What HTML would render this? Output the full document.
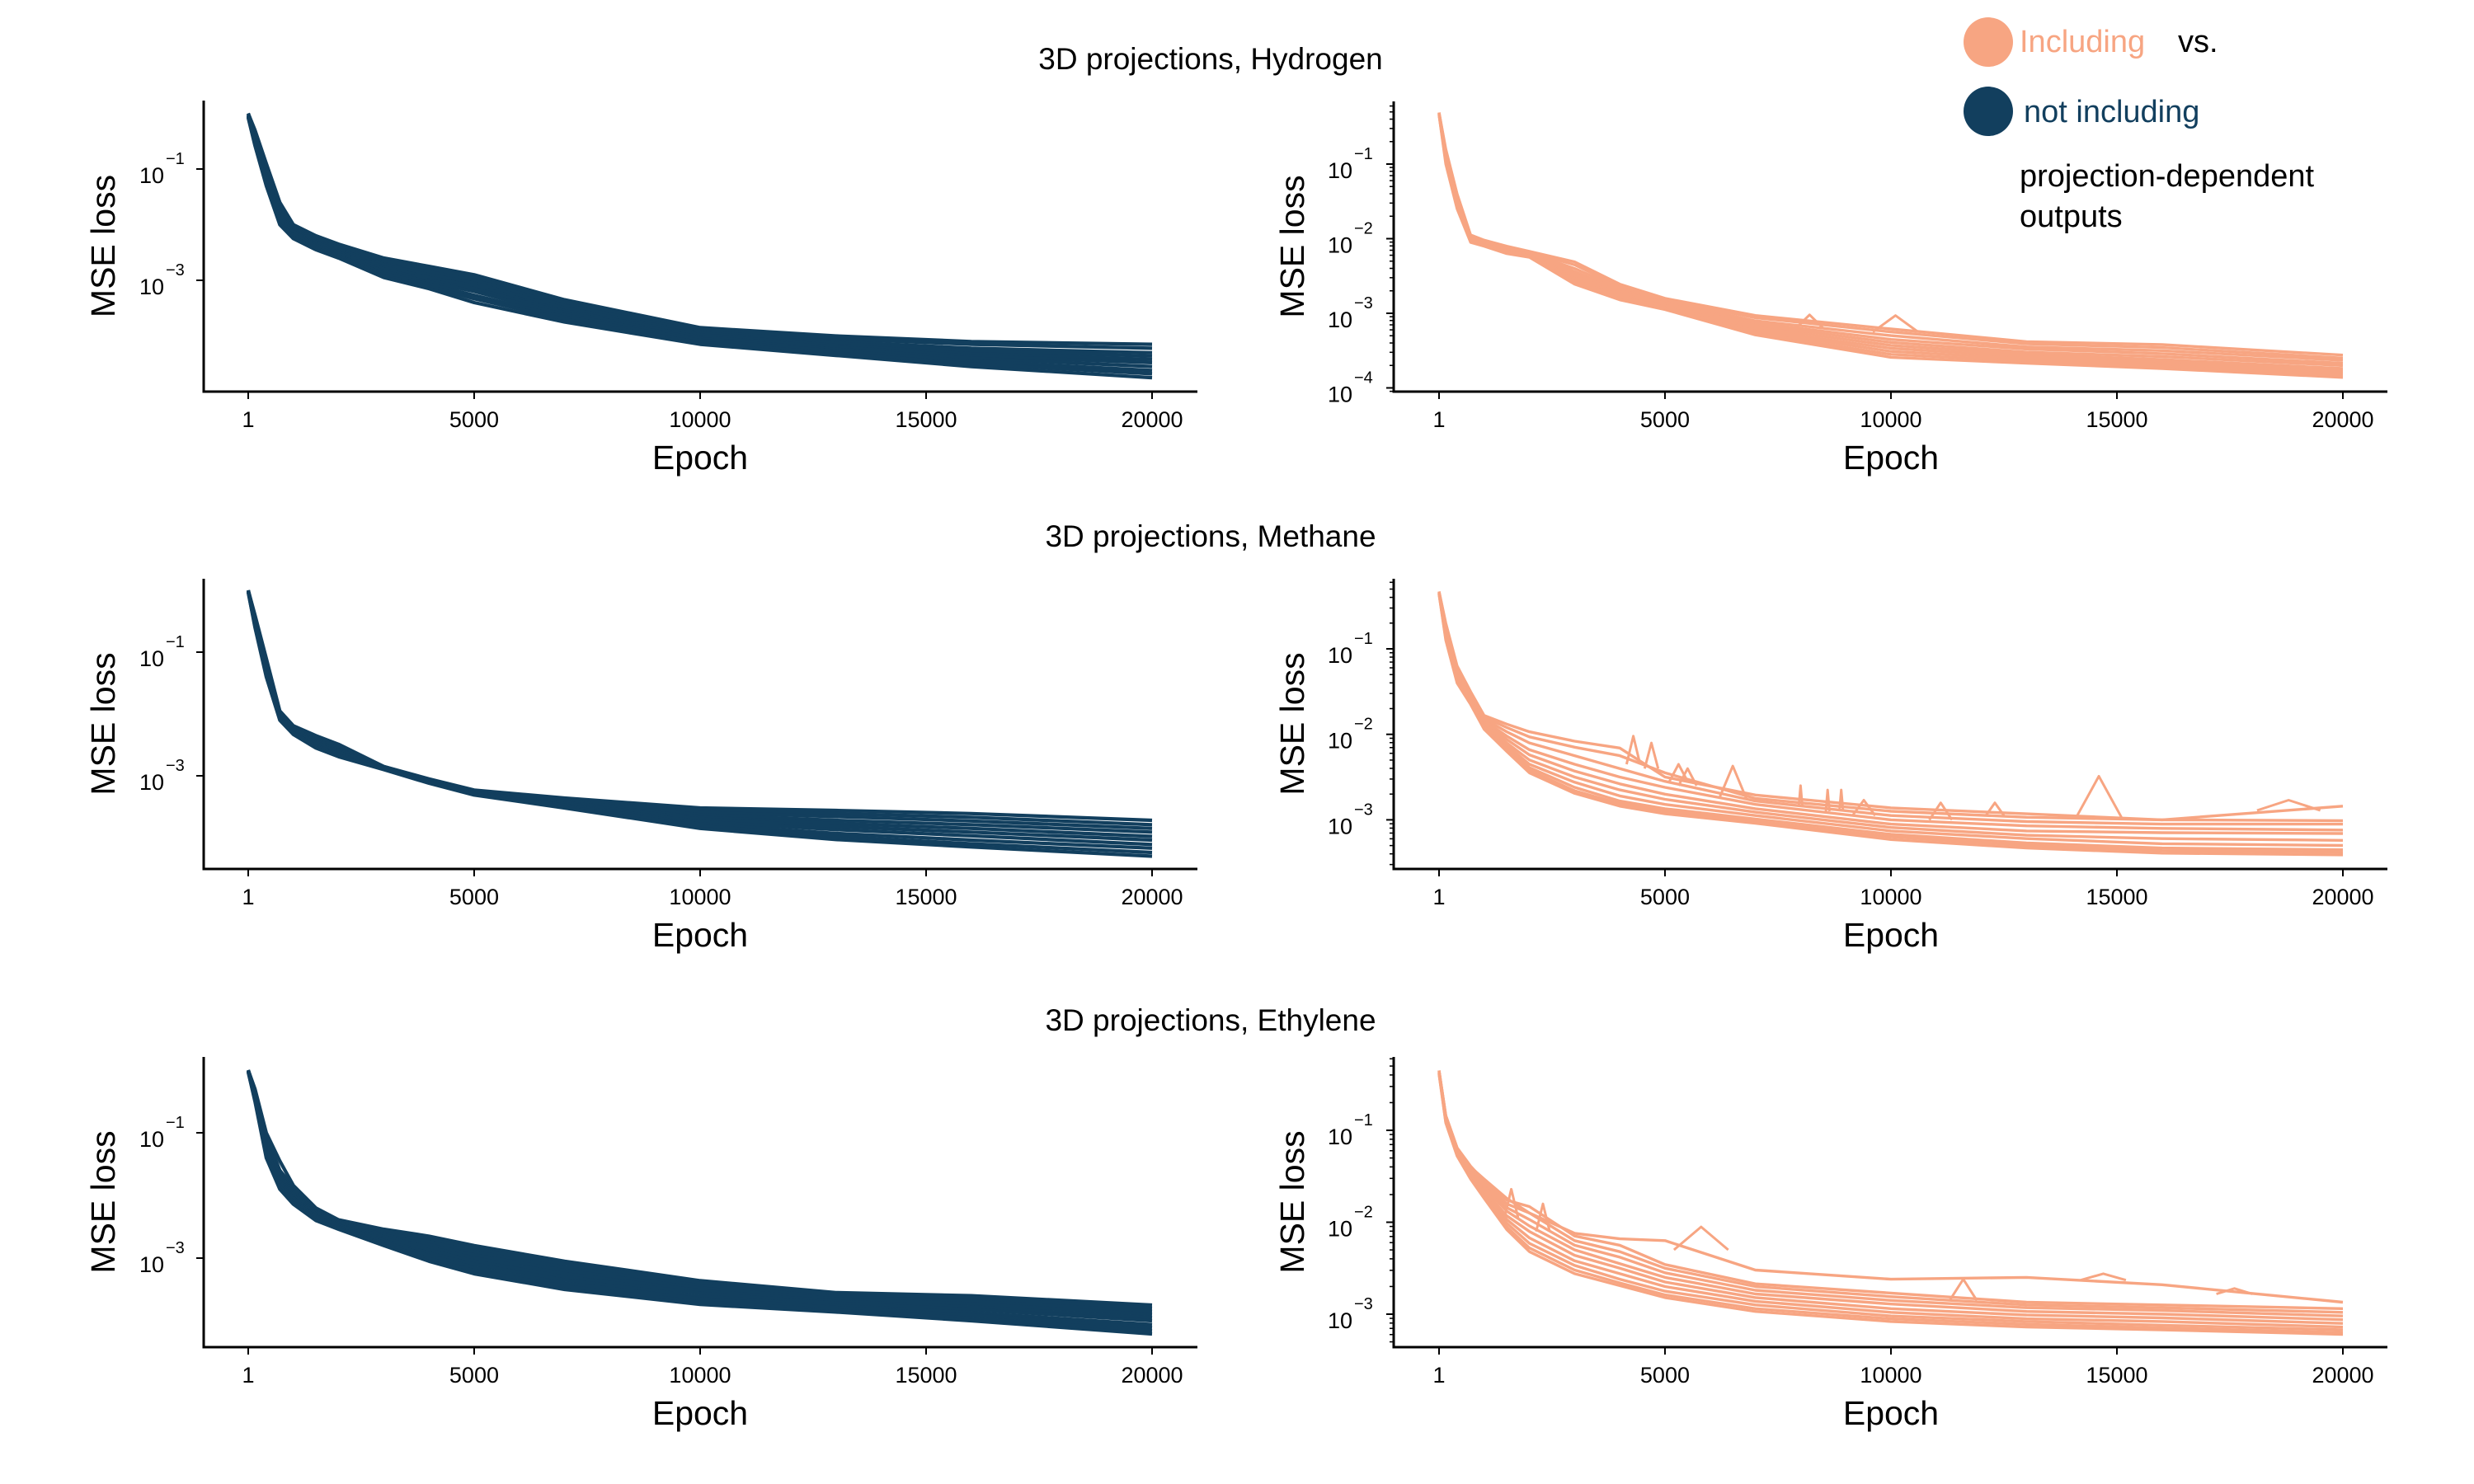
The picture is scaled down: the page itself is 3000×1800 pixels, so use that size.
<!DOCTYPE html>
<html>
<head>
<meta charset="utf-8">
<style>
  html,body{margin:0;padding:0;background:#fff;}
  svg{display:block;font-family:"Liberation Sans",Arial,sans-serif;}
</style>
</head>
<body>
<svg id="chart" width="3000" height="1800" viewBox="0 0 3000 1800" xmlns="http://www.w3.org/2000/svg">
  <g>
    <circle cx="2411" cy="51" r="30" fill="#f7a582"/>
    <text x="2449" y="63" font-size="38" fill="#f7a582">Including</text>
    <text x="2641" y="63" font-size="38" fill="#000">vs.</text>
    <circle cx="2411" cy="135" r="30" fill="#123f5e"/>
    <text x="2454" y="148" font-size="38" fill="#123f5e">not including</text>
    <text x="2449" y="226" font-size="38" fill="#000">projection-dependent</text>
    <text x="2449" y="275" font-size="38" fill="#000">outputs</text>
  </g>
  <text x="1468" y="84" font-size="37" text-anchor="middle">3D projections, Hydrogen</text>
  <text x="1468" y="663" font-size="37" text-anchor="middle">3D projections, Methane</text>
  <text x="1468" y="1250" font-size="37" text-anchor="middle">3D projections, Ethylene</text>
</svg>
<script>
const EPOCHS=[1,150,400,700,1000,1500,2000,3000,4000,5000,7000,10000,13000,16000,20000];
const X_TICKS=[1,5000,10000,15000,20000];
const X_TICK_LABELS=["1","5000","10000","15000","20000"];

const H_NOT=[
[0,-0.30,-0.90,-1.60,-2.00,-2.20,-2.35,-2.60,-2.75,-2.90,-3.35,-3.85,-4.00,-4.10,-4.15],
[0,-0.35,-0.95,-1.65,-2.03,-2.25,-2.40,-2.65,-2.80,-2.95,-3.40,-3.88,-4.05,-4.15,-4.22],
[-0.02,-0.40,-1.00,-1.70,-2.05,-2.28,-2.42,-2.70,-2.85,-3.00,-3.45,-3.92,-4.10,-4.22,-4.30],
[-0.03,-0.42,-1.05,-1.75,-2.08,-2.30,-2.45,-2.72,-2.90,-3.05,-3.50,-3.95,-4.13,-4.27,-4.36],
[-0.04,-0.45,-1.10,-1.78,-2.10,-2.32,-2.48,-2.76,-2.95,-3.10,-3.55,-3.98,-4.17,-4.32,-4.42],
[-0.05,-0.48,-1.12,-1.82,-2.12,-2.35,-2.50,-2.80,-3.00,-3.15,-3.58,-4.02,-4.20,-4.36,-4.48],
[-0.05,-0.50,-1.15,-1.85,-2.15,-2.37,-2.53,-2.84,-3.03,-3.20,-3.62,-4.05,-4.24,-4.40,-4.55],
[-0.06,-0.52,-1.20,-1.90,-2.18,-2.40,-2.56,-2.88,-3.07,-3.27,-3.66,-4.08,-4.27,-4.45,-4.62],
[-0.07,-0.55,-1.25,-1.95,-2.22,-2.43,-2.58,-2.92,-3.11,-3.33,-3.70,-4.12,-4.31,-4.50,-4.68],
[-0.08,-0.58,-1.30,-2.00,-2.25,-2.45,-2.60,-2.95,-3.15,-3.40,-3.75,-4.15,-4.35,-4.55,-4.75]];
const H_INC=[
[-0.31,-0.80,-1.40,-1.95,-2.02,-2.10,-2.17,-2.31,-2.61,-2.80,-3.03,-3.21,-3.38,-3.42,-3.56],
[-0.31,-0.83,-1.43,-1.96,-2.03,-2.11,-2.18,-2.35,-2.64,-2.82,-3.06,-3.25,-3.41,-3.46,-3.60],
[-0.31,-0.85,-1.45,-1.97,-2.04,-2.12,-2.19,-2.40,-2.66,-2.84,-3.10,-3.30,-3.45,-3.50,-3.63],
[-0.32,-0.87,-1.47,-1.98,-2.05,-2.13,-2.20,-2.44,-2.69,-2.85,-3.13,-3.35,-3.48,-3.54,-3.67],
[-0.32,-0.89,-1.49,-1.99,-2.06,-2.14,-2.21,-2.47,-2.71,-2.87,-3.16,-3.39,-3.52,-3.58,-3.70],
[-0.32,-0.91,-1.51,-2.00,-2.07,-2.15,-2.22,-2.50,-2.74,-2.89,-3.19,-3.43,-3.55,-3.62,-3.74],
[-0.33,-0.93,-1.53,-2.01,-2.08,-2.16,-2.23,-2.53,-2.76,-2.90,-3.22,-3.47,-3.58,-3.65,-3.77],
[-0.33,-0.95,-1.55,-2.02,-2.08,-2.17,-2.23,-2.56,-2.78,-2.92,-3.24,-3.51,-3.61,-3.68,-3.80],
[-0.34,-0.97,-1.57,-2.03,-2.09,-2.18,-2.24,-2.58,-2.80,-2.93,-3.27,-3.55,-3.64,-3.71,-3.83],
[-0.34,-1.00,-1.60,-2.05,-2.10,-2.20,-2.25,-2.61,-2.82,-2.95,-3.29,-3.59,-3.67,-3.74,-3.86]];
const H_INC_SPIKES=[[8200,300,-3.2,-3.02],[10100,500,-3.25,-3.03]];

const M_NOT=[
[0,-0.40,-1.10,-1.95,-2.19,-2.35,-2.49,-2.85,-3.05,-3.23,-3.36,-3.52,-3.56,-3.61,-3.72],
[0,-0.42,-1.13,-1.97,-2.21,-2.37,-2.51,-2.85,-3.06,-3.24,-3.38,-3.56,-3.61,-3.67,-3.79],
[0,-0.44,-1.17,-1.98,-2.22,-2.39,-2.53,-2.86,-3.07,-3.25,-3.39,-3.59,-3.66,-3.73,-3.85],
[0,-0.47,-1.20,-2.00,-2.24,-2.42,-2.56,-2.87,-3.07,-3.26,-3.41,-3.63,-3.72,-3.79,-3.91],
[-0.01,-0.49,-1.23,-2.02,-2.25,-2.44,-2.58,-2.87,-3.08,-3.27,-3.43,-3.67,-3.77,-3.85,-3.98],
[-0.01,-0.51,-1.27,-2.03,-2.27,-2.46,-2.60,-2.88,-3.09,-3.27,-3.45,-3.70,-3.82,-3.91,-4.04],
[-0.02,-0.53,-1.30,-2.05,-2.28,-2.48,-2.62,-2.88,-3.10,-3.28,-3.47,-3.74,-3.87,-3.97,-4.11],
[-0.02,-0.56,-1.33,-2.07,-2.30,-2.51,-2.65,-2.89,-3.10,-3.29,-3.48,-3.78,-3.93,-4.04,-4.17],
[-0.03,-0.58,-1.37,-2.08,-2.31,-2.53,-2.67,-2.89,-3.11,-3.30,-3.50,-3.81,-3.98,-4.10,-4.24],
[-0.03,-0.60,-1.40,-2.10,-2.33,-2.55,-2.69,-2.90,-3.12,-3.31,-3.52,-3.85,-4.03,-4.15,-4.30]];
const M_INC=[
[-0.33,-0.70,-1.20,-1.50,-1.78,-1.88,-1.97,-2.08,-2.16,-2.50,-2.71,-2.86,-2.93,-3.00,-2.84],
[-0.33,-0.72,-1.22,-1.52,-1.80,-1.92,-2.03,-2.15,-2.25,-2.45,-2.75,-2.90,-2.97,-3.00,-3.01],
[-0.34,-0.74,-1.25,-1.54,-1.82,-1.97,-2.10,-2.25,-2.40,-2.55,-2.78,-2.95,-3.02,-3.05,-3.05],
[-0.34,-0.76,-1.27,-1.56,-1.84,-2.02,-2.18,-2.35,-2.50,-2.62,-2.82,-3.00,-3.07,-3.10,-3.12],
[-0.34,-0.78,-1.30,-1.57,-1.86,-2.06,-2.24,-2.43,-2.58,-2.70,-2.87,-3.05,-3.13,-3.15,-3.16],
[-0.35,-0.80,-1.32,-1.59,-1.88,-2.10,-2.30,-2.50,-2.65,-2.76,-2.91,-3.09,-3.18,-3.22,-3.24],
[-0.35,-0.83,-1.34,-1.60,-1.90,-2.13,-2.35,-2.56,-2.72,-2.82,-2.95,-3.13,-3.22,-3.28,-3.30],
[-0.35,-0.85,-1.36,-1.62,-1.91,-2.16,-2.39,-2.62,-2.78,-2.87,-2.99,-3.17,-3.27,-3.33,-3.35],
[-0.36,-0.88,-1.38,-1.63,-1.93,-2.18,-2.42,-2.66,-2.81,-2.90,-3.02,-3.20,-3.30,-3.36,-3.38],
[-0.36,-0.90,-1.40,-1.65,-1.94,-2.20,-2.45,-2.69,-2.84,-2.93,-3.04,-3.23,-3.33,-3.39,-3.41]];
const M_INC_SPIKES=[[4300,150,-2.35,-2.02],[4700,150,-2.4,-2.1],[5300,200,-2.55,-2.35],[5500,200,-2.6,-2.4],[6500,300,-2.75,-2.37],[8000,40,-2.85,-2.6],[8600,40,-2.9,-2.65],[8900,40,-2.9,-2.65],[9400,250,-2.95,-2.77],[11100,250,-3.0,-2.8],[12300,200,-2.95,-2.8],[14600,500,-2.97,-2.49],[18800,700,-2.89,-2.77]];

const E_NOT=[
[0,-0.30,-1.00,-1.45,-1.84,-2.20,-2.39,-2.54,-2.65,-2.80,-3.05,-3.36,-3.55,-3.60,-3.75],
[0,-0.32,-1.05,-1.60,-1.87,-2.22,-2.40,-2.57,-2.70,-2.85,-3.10,-3.40,-3.58,-3.64,-3.80],
[0,-0.35,-1.10,-1.63,-1.90,-2.24,-2.42,-2.60,-2.74,-2.90,-3.15,-3.44,-3.62,-3.69,-3.85],
[0,-0.37,-1.15,-1.67,-1.94,-2.26,-2.43,-2.63,-2.79,-2.95,-3.20,-3.48,-3.65,-3.73,-3.90],
[-0.01,-0.39,-1.18,-1.70,-1.97,-2.28,-2.45,-2.66,-2.83,-3.00,-3.25,-3.52,-3.69,-3.78,-3.95],
[-0.01,-0.41,-1.22,-1.73,-2.00,-2.30,-2.47,-2.69,-2.87,-3.05,-3.30,-3.56,-3.72,-3.82,-4.00],
[-0.02,-0.43,-1.26,-1.77,-2.04,-2.33,-2.48,-2.72,-2.92,-3.10,-3.35,-3.61,-3.76,-3.87,-4.06],
[-0.02,-0.45,-1.30,-1.80,-2.07,-2.35,-2.50,-2.75,-2.96,-3.15,-3.40,-3.65,-3.79,-3.91,-4.11],
[-0.03,-0.48,-1.35,-1.85,-2.11,-2.38,-2.52,-2.78,-3.01,-3.20,-3.45,-3.70,-3.83,-3.96,-4.16],
[-0.03,-0.50,-1.40,-1.90,-2.14,-2.40,-2.54,-2.80,-3.05,-3.25,-3.50,-3.74,-3.86,-4.00,-4.21]];
const E_INC=[
[-0.35,-0.84,-1.19,-1.40,-1.53,-1.74,-1.90,-2.12,-2.18,-2.20,-2.52,-2.62,-2.60,-2.68,-2.87],
[-0.35,-0.84,-1.19,-1.39,-1.55,-1.76,-1.83,-2.15,-2.25,-2.46,-2.67,-2.77,-2.87,-2.90,-2.94],
[-0.35,-0.85,-1.20,-1.41,-1.58,-1.80,-1.90,-2.20,-2.32,-2.50,-2.70,-2.81,-2.90,-2.93,-2.98],
[-0.36,-0.86,-1.21,-1.42,-1.60,-1.84,-1.97,-2.25,-2.38,-2.55,-2.74,-2.85,-2.93,-2.96,-3.02],
[-0.36,-0.87,-1.22,-1.44,-1.62,-1.88,-2.04,-2.30,-2.45,-2.60,-2.78,-2.89,-2.97,-3.00,-3.06],
[-0.37,-0.88,-1.23,-1.46,-1.65,-1.93,-2.10,-2.36,-2.50,-2.65,-2.82,-2.94,-3.01,-3.04,-3.10],
[-0.37,-0.89,-1.24,-1.48,-1.67,-1.97,-2.17,-2.42,-2.56,-2.70,-2.86,-2.98,-3.05,-3.08,-3.14],
[-0.38,-0.90,-1.25,-1.50,-1.70,-2.01,-2.23,-2.47,-2.62,-2.75,-2.90,-3.02,-3.08,-3.12,-3.17],
[-0.38,-0.91,-1.27,-1.52,-1.72,-2.05,-2.28,-2.52,-2.66,-2.79,-2.94,-3.05,-3.11,-3.15,-3.20],
[-0.39,-0.92,-1.28,-1.53,-1.74,-2.08,-2.32,-2.56,-2.69,-2.82,-2.97,-3.08,-3.14,-3.17,-3.22]];
const E_INC_SPIKES=[[1600,150,-1.95,-1.64],[2300,150,-2.1,-1.8],[5800,600,-2.3,-2.05],[11600,300,-2.85,-2.62],[14700,500,-2.63,-2.56],[17600,400,-2.78,-2.72]];

const LEFT_TICKS=[-1,-3];
const H_RIGHT_TICKS=[-1,-2,-3,-4];
const MR_TICKS=[-1,-2,-3];

const NAVY="#123f5e", SALMON="#f7a582";
const NS="http://www.w3.org/2000/svg";
const svg=document.getElementById('chart');

const panels=[
 {name:'hydrogen-not-including',runs:H_NOT,spikes:[],color:NAVY,side:'L',top:122,bot:475,ya:205,dec:67.5,ticks:LEFT_TICKS,minor:false},
 {name:'hydrogen-including',runs:H_INC,spikes:H_INC_SPIKES,color:SALMON,side:'R',top:123,bot:475,ya:199,dec:90.5,ticks:H_RIGHT_TICKS,minor:true},
 {name:'methane-not-including',runs:M_NOT,spikes:[],color:NAVY,side:'L',top:702,bot:1054,ya:791,dec:75,ticks:LEFT_TICKS,minor:false},
 {name:'methane-including',runs:M_INC,spikes:M_INC_SPIKES,color:SALMON,side:'R',top:702,bot:1054,ya:787,dec:103.7,ticks:MR_TICKS,minor:true},
 {name:'ethylene-not-including',runs:E_NOT,spikes:[],color:NAVY,side:'L',top:1282,bot:1634,ya:1374,dec:76,ticks:LEFT_TICKS,minor:false},
 {name:'ethylene-including',runs:E_INC,spikes:E_INC_SPIKES,color:SALMON,side:'R',top:1282,bot:1634,ya:1371,dec:111.5,ticks:MR_TICKS,minor:true}
];

function mk(tag,attrs,parent){const e=document.createElementNS(NS,tag);for(const k in attrs)e.setAttribute(k,attrs[k]);parent.appendChild(e);return e;}

panels.forEach(p=>{
  const L=p.side==='L';
  const ax0=L?247:1690, axEnd=L?1452:2895, xa=L?301:1745, xb=L?1397:2841;
  const sw=p.color===NAVY?4.2:3.4;
  const xS=e=>xa+(e-1)/(20000-1)*(xb-xa);
  const yS=v=>p.ya-(v-(-1))*p.dec;
  const g=mk('g',{},svg);
  
  
  const sg=mk('g',{},g);
  
  
  p.runs.forEach((run,i)=>{
    const pts=run.map((v,j)=>xS(EPOCHS[j]).toFixed(1)+','+yS(v).toFixed(1)).join(' ');
    const pl=mk('polyline',{points:pts,fill:'none',stroke:p.color,'stroke-width':sw,'stroke-linejoin':'round'},sg);
    
    
  });
  p.spikes.forEach((s,i)=>{
    const pts=[[s[0]-s[1],s[2]],[s[0],s[3]],[s[0]+s[1],s[2]]].map(q=>xS(q[0]).toFixed(1)+','+yS(q[1]).toFixed(1)).join(' ');
    const pl=mk('polyline',{points:pts,fill:'none',stroke:p.color,'stroke-width':3,'stroke-linejoin':'round'},sg);
    
    
  });
  const ya=mk('line',{x1:ax0,y1:p.top,x2:ax0,y2:p.bot+1.5,stroke:'#000','stroke-width':3},g);
  
  
  const xl=mk('line',{x1:ax0-1.5,y1:p.bot,x2:axEnd,y2:p.bot,stroke:'#000','stroke-width':3},g);
  
  
  X_TICKS.forEach((t,i)=>{
    const x=xS(t);
    const tk=mk('line',{x1:x,y1:p.bot,x2:x,y2:p.bot+9,stroke:'#000','stroke-width':2},g);
    
    
    const tx=mk('text',{x:x,y:p.bot+43,'font-size':27,'text-anchor':'middle'},g);
    tx.textContent=X_TICK_LABELS[i];
    
    
  });
  const xt=mk('text',{x:(xa+xb)/2,y:p.bot+94,'font-size':41,'text-anchor':'middle'},g);
  xt.textContent='Epoch';
  
  
  const cx=L?125:1567, cy=(p.top+p.bot)/2;
  const yt=mk('text',{x:cx,y:cy,'font-size':41,'text-anchor':'middle','dominant-baseline':'central',transform:`rotate(-90 ${cx} ${cy})`},g);
  yt.textContent='MSE loss';
  
  
  const lx=L?199:1640;
  p.ticks.forEach(t=>{
    const y=yS(t);
    const tk=mk('line',{x1:ax0-9,y1:y,x2:ax0,y2:y,stroke:'#000','stroke-width':2},g);
    
    
    const tx=mk('text',{x:lx,y:y+17,'font-size':27,'text-anchor':'end'},g);
    tx.textContent='10';
    
    
    const sx=mk('text',{x:lx+2,y:y-6,'font-size':20},g);
    sx.textContent='\u2212'+(-t);
    
    
  });
  if(p.minor){
    const lo=-(p.bot-p.ya)/p.dec-1, hi=(p.ya-p.top)/p.dec-1;
    for(let d=Math.floor(lo);d<=Math.ceil(hi);d++){
      for(let k=2;k<=9;k++){
        const v=d+Math.log10(k);
        if(v<lo||v>hi)continue;
        const y=yS(v);
        const mt=mk('line',{x1:ax0-5,y1:y,x2:ax0,y2:y,stroke:'#000','stroke-width':1.5},g);
        
        
      }
    }
  }
});
</script>
</body>
</html>
